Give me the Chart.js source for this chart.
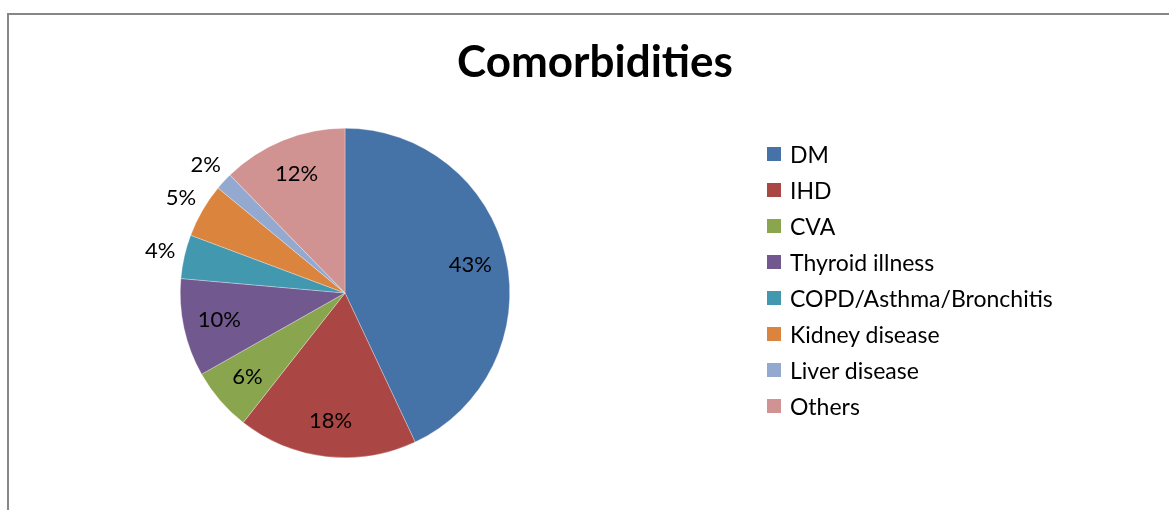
<!DOCTYPE html>
<html>
<head>
<meta charset="utf-8">
<script src="https://cdn.jsdelivr.net/npm/chart.js@4"></script>
<style>
  html, body { margin: 0; padding: 0; background: #fff; overflow: hidden; width: 1169px; height: 510px; }
  #frame { position: absolute; left: 7px; top: 13px; width: 1176px; height: 520px; border: 2px solid #878787; box-sizing: border-box; }
  #chart { position: absolute; left: 0; top: 0; }
  #legend { position: absolute; left: 758px; top: 121px; font-family: Lato, "Open Sans", sans-serif; font-size: 23px; color: #000; }
  .item { height: 36px; display: flex; align-items: center; white-space: nowrap; }
  .box { width: 14px; height: 14px; margin-right: 9px; }
</style>
</head>
<body>
<div id="frame">
  <canvas id="chart" width="1172" height="495"></canvas>
  <div id="legend"></div>
</div>
<script>
// Données (pourcentages)
const categories = ['DM', 'IHD', 'CVA', 'Thyroid illness', 'COPD/Asthma/Bronchitis', 'Kidney disease', 'Liver disease', 'Others'];
const shares = [43.0, 17.6, 6.2, 9.6, 4.3, 5.3, 1.7, 12.3];
const sliceColors = ['#4572A7', '#AA4643', '#89A54E', '#71588F', '#4198AF', '#DB843D', '#93A9CF', '#D19392'];
const chartTitle = 'Comorbidities';

// Titre centré sur toute la largeur du cadre (pas seulement sur le camembert)
const frameTitle = {
    id: 'frameTitle',
    afterDraw(chart) {
        const ctx = chart.ctx;
        ctx.save();
        ctx.font = 'bold 44px Lato, "Open Sans", sans-serif';
        ctx.fillStyle = '#000';
        ctx.textAlign = 'center';
        ctx.textBaseline = 'middle';
        ctx.fillText(chartTitle, chart.width / 2, 48);
        ctx.restore();
    }
};

// Étiquettes de pourcentage : dedans pour les grosses parts, dehors pour les petites
const pctLabels = {
    id: 'pctLabels',
    afterDatasetsDraw(chart) {
        const ctx = chart.ctx;
        const meta = chart.getDatasetMeta(0);
        ctx.save();
        ctx.font = '22px Lato, "Open Sans", sans-serif';
        ctx.fillStyle = '#000';
        ctx.textAlign = 'center';
        ctx.textBaseline = 'middle';
        meta.data.forEach((arc, i) => {
            const p = arc.getProps(['x', 'y', 'startAngle', 'endAngle', 'outerRadius'], true);
            const mid = (p.startAngle + p.endAngle) / 2;
            const v = shares[i];
            const r = v < 5.5 ? p.outerRadius * 1.15 : p.outerRadius * 0.78;
            const x = p.x + Math.cos(mid) * r;
            const y = p.y + Math.sin(mid) * r;
            ctx.fillText(Math.round(v) + '%', x, y);
        });
        ctx.restore();
    }
};

const ctx = document.getElementById('chart').getContext('2d');
const chart = new Chart(ctx, {
    type: 'pie',
    data: {
        labels: categories,
        datasets: [{
            data: shares,
            backgroundColor: sliceColors,
            borderColor: 'rgba(255,255,255,0.6)',
            borderWidth: 0.5
        }]
    },
    options: {
        responsive: false,
        animation: false,
        layout: {
            padding: { left: 171, right: 671, top: 113, bottom: 52 }
        },
        plugins: {
            legend: { display: false },
            tooltip: { enabled: false },
            title: { display: false }
        }
    },
    plugins: [pctLabels, frameTitle]
});

// Légende construite à partir des mêmes tableaux
const legend = document.getElementById('legend');
categories.forEach((name, i) => {
    const row = document.createElement('div');
    row.className = 'item';
    const box = document.createElement('span');
    box.className = 'box';
    box.style.background = sliceColors[i];
    const txt = document.createElement('span');
    txt.textContent = name;
    row.appendChild(box);
    row.appendChild(txt);
    legend.appendChild(row);
});
</script>
</body>
</html>
